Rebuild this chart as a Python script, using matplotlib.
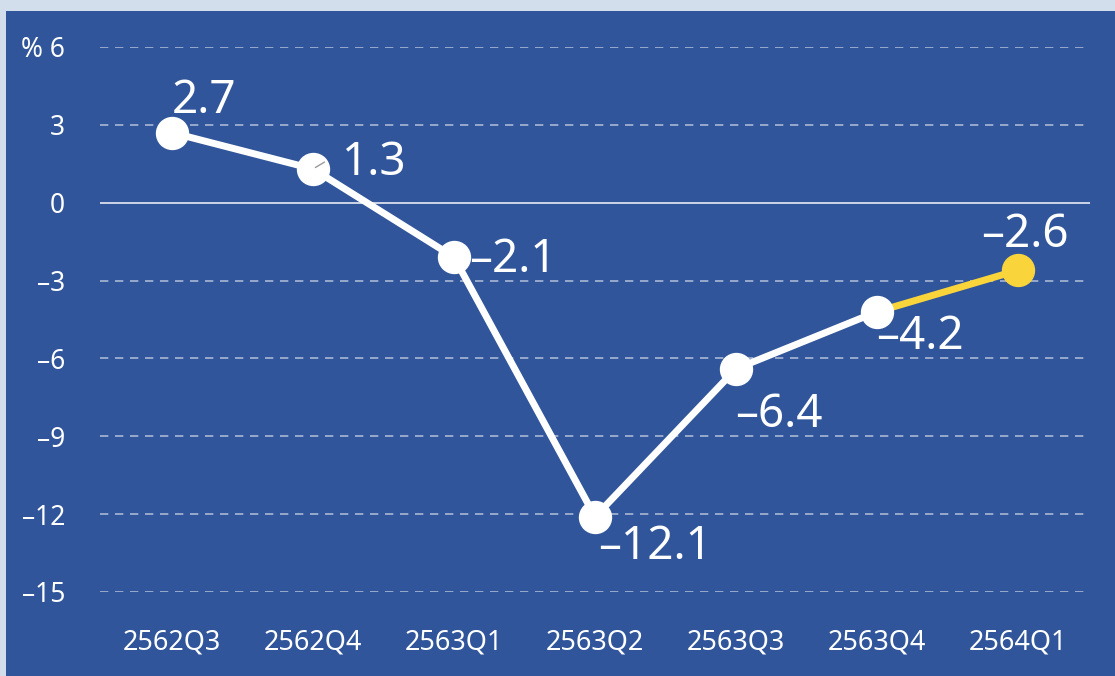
import matplotlib.pyplot as plt
from matplotlib.patches import Rectangle

# Data
quarters = ['2562Q3', '2562Q4', '2563Q1', '2563Q2', '2563Q3', '2563Q4', '2564Q1']
growth = [2.7, 1.3, -2.1, -12.1, -6.4, -4.2, -2.6]
y_ticks = [6, 3, 0, -3, -6, -9, -12, -15]
y_tick_labels = ['% 6', '3', '0', '\u20133', '\u20136', '\u20139', '\u201312', '\u201315']

# label offsets in points (dx, dy) and alignment
label_offsets = [(0, 23), (21, 4), (11, -2), (2, -22), (-1, -33), (-1, -18), (5, 25)]
label_ha = ['left', 'left', 'left', 'left', 'left', 'left', 'center']

panel = '#30559a'
white = '#ffffff'
yellow = '#f9d43a'

plt.rcParams['font.family'] = ['Noto Sans', 'DejaVu Sans']

fig = plt.figure(figsize=(11.15, 6.76), dpi=100)
fig.patch.set_facecolor('#d3deec')
fig.patches.append(Rectangle((6 / 1115, 0), 1, 1 - 11 / 676, transform=fig.transFigure,
                             facecolor=panel, edgecolor='none', zorder=-10))

ax = fig.add_axes([0.0897, 0.1243, 0.888, 0.8062])
ax.set_facecolor('none')
x = list(range(len(quarters)))

ax.set_xlim(-0.51, 6.51)
ax.set_ylim(-15, 6)

for t in y_ticks:
    if t == 0:
        ax.axhline(0, color='#e8ecf4', lw=1.2, zorder=1)
    else:
        ax.axhline(t, color='#a9b8d6', lw=1.2, ls=(0, (5, 4)), zorder=1)

ax.plot(x[:-1], growth[:-1], color=white, lw=5, zorder=3)
ax.plot(x[-2:], growth[-2:], color=yellow, lw=5, zorder=3)
ax.plot(x[:-1], growth[:-1], 'o', color=white, ms=23, zorder=4)
ax.plot(x[-1:], growth[-1:], 'o', color=yellow, ms=23, zorder=4)

# small leader line near 1.3
ax.annotate('', xy=(x[1], growth[1]), xytext=(10, 6), textcoords='offset points',
            arrowprops=dict(arrowstyle='-', color='#9a9a9a', lw=1), zorder=5)

for i, v in enumerate(growth):
    txt = f'{v:.1f}'.replace('-', '\u2013')
    dx, dy = label_offsets[i]
    ax.annotate(txt, (x[i], v), xytext=(dx, dy), textcoords='offset points',
                ha=label_ha[i], va='center', color=white, fontsize=33, zorder=6)

ax.set_xticks(x)
ax.set_xticklabels(quarters, color=white, fontsize=19.5)
ax.set_yticks(y_ticks)
ax.set_yticklabels(y_tick_labels, color=white, fontsize=19)
ax.tick_params(length=0)
ax.tick_params(axis='x', pad=26)
ax.tick_params(axis='y', pad=25)
for s in ax.spines.values():
    s.set_visible(False)

fig.savefig('out.png', dpi=100)
